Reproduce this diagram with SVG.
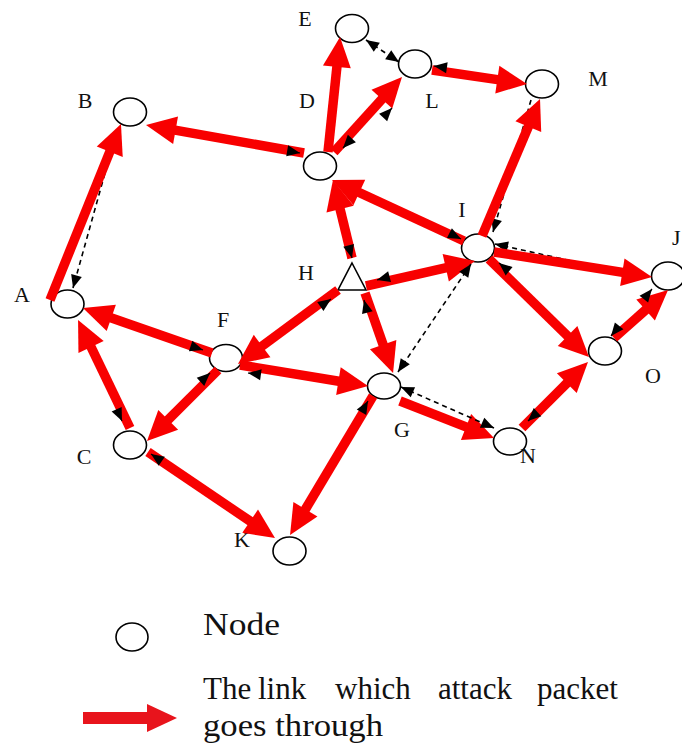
<svg xmlns="http://www.w3.org/2000/svg" width="682" height="749" viewBox="0 0 682 749">
<defs>
<style>
.nd{fill:#fff;stroke:#000;stroke-width:1.6}
.lb{font-family:"Liberation Serif","Times New Roman",serif;font-size:22px;fill:#111;text-anchor:middle}
.red{fill:none;stroke:#f80000;stroke-width:9.5;stroke-linecap:butt;marker-end:url(#rh)}
.bk{fill:none;stroke:#000;stroke-width:1.2;marker-end:url(#bh)}
.ds{fill:none;stroke:#000;stroke-width:1.6;stroke-dasharray:5 4;marker-end:url(#bh)}
.ds2{fill:none;stroke:#000;stroke-width:1.6;stroke-dasharray:5 4;marker-start:url(#bh);marker-end:url(#bh)}
.lg{font-family:"Liberation Serif","Times New Roman",serif;font-size:31px;fill:#111}
</style>
<marker id="rh" markerUnits="userSpaceOnUse" markerWidth="30" markerHeight="28" refX="2" refY="14" orient="auto" overflow="visible">
<path d="M0,0 L30,14 L0,28 z" fill="#f80000"/>
</marker>
<marker id="bh" markerUnits="userSpaceOnUse" markerWidth="13" markerHeight="11" refX="13" refY="5.5" orient="auto-start-reverse" overflow="visible">
<path d="M0,0 L13,5.5 L0,11 z" fill="#000"/>
</marker>
</defs>
<rect width="682" height="749" fill="#fff"/>

<g id="nodes">
<g id="node-E"><ellipse class="nd" cx="352" cy="28.5" rx="16.5" ry="14"/><text class="lb" x="305" y="26">E</text></g>
<g id="node-L"><ellipse class="nd" cx="415" cy="64" rx="16.5" ry="14"/><text class="lb" x="432" y="108">L</text></g>
<g id="node-M"><ellipse class="nd" cx="542" cy="84" rx="16.5" ry="14"/><text class="lb" x="598" y="86">M</text></g>
<g id="node-D"><ellipse class="nd" cx="320" cy="166" rx="16.5" ry="14"/><text class="lb" x="307" y="108">D</text></g>
<g id="node-B"><ellipse class="nd" cx="130" cy="112" rx="16.5" ry="14"/><text class="lb" x="85" y="108">B</text></g>
<g id="node-A"><ellipse class="nd" cx="67.5" cy="304" rx="16.5" ry="14"/><text class="lb" x="22" y="302">A</text></g>
<g id="node-I"><ellipse class="nd" cx="478" cy="248" rx="16.5" ry="14"/><text class="lb" x="462" y="217">I</text></g>
<g id="node-H"><polygon class="nd" points="352,263 366,290 338,290"/><text class="lb" x="306" y="280">H</text></g>
<g id="node-F"><ellipse class="nd" cx="226" cy="358" rx="16.5" ry="13.5"/><text class="lb" x="223" y="327">F</text></g>
<g id="node-G"><ellipse class="nd" cx="384" cy="386" rx="16.5" ry="13"/><text class="lb" x="402" y="437">G</text></g>
<g id="node-J"><ellipse class="nd" cx="668" cy="276" rx="16.5" ry="14"/><text class="lb" x="672" y="245" style="text-anchor:start">J</text></g>
<g id="node-O"><ellipse class="nd" cx="605" cy="351" rx="16.5" ry="14"/><text class="lb" x="653" y="383">O</text></g>
<g id="node-N"><ellipse class="nd" cx="510" cy="441.5" rx="16.5" ry="13.5"/><text class="lb" x="528" y="463">N</text></g>
<g id="node-C"><ellipse class="nd" cx="130" cy="445" rx="16.5" ry="14"/><text class="lb" x="84" y="464">C</text></g>
<g id="node-K"><ellipse class="nd" cx="289.5" cy="551" rx="16.5" ry="14"/><text class="lb" x="242" y="547">K</text></g>
</g>

<g id="connectors">
<path class="ds" d="M117,130 L73,288"/>
<path class="ds" d="M531,100 L493,232"/>
<path class="ds" d="M640,276 L495,244"/>

<path class="red" d="M50,300 L110.5,150"/>
<path class="red" d="M304,153 L173.6,129.9"/>
<path class="red" d="M328,152 L337.1,64.9"/>
<path class="red" d="M334,152 L383.2,97.7"/>
<path class="red" d="M432,70 L499.3,79.9"/>
<path class="red" d="M482,236 L529.1,124.8"/>
<path class="red" d="M464,241 L357.5,191.7"/>
<path class="red" d="M352,258 L339.6,207.2"/>
<path class="red" d="M366,286 L447.7,267.3"/>
<path class="red" d="M338,290 L260.5,347.3"/>
<path class="red" d="M365,293 L383.8,346.6"/>
<path class="red" d="M240,365 L340.4,381.5"/>
<path class="red" d="M212,353 L109.4,317.2"/>
<path class="red" d="M218,370 L166.8,421.2"/>
<path class="red" d="M130,428 L90.2,345.2"/>
<path class="red" d="M148,452 L251.8,522.3"/>
<path class="red" d="M373,396 L304.4,511"/>
<path class="red" d="M400,401 L467.9,427.7"/>
<path class="red" d="M494,252 L624.3,272.6"/>
<path class="red" d="M489,259 L569,337.4"/>
<path class="red" d="M614,338 L647.1,308.6"/>
<path class="red" d="M522,428 L568.2,381.8"/>

<path class="ds2" d="M366,40 L399,62"/>
<path class="ds2" d="M471,264 L398,372"/>
<path class="ds2" d="M401,387 L494,428"/>

<path class="bk" d="M290.2,151.3 L300,153"/>
<path class="bk" d="M349.8,140.7 L343,148"/>
<path class="bk" d="M385.2,115.3 L392,108"/>
<path class="bk" d="M443.9,67.4 L434,66"/>
<path class="bk" d="M452.1,234.5 L461,239"/>
<path class="bk" d="M386.7,277.4 L377,280"/>
<path class="bk" d="M322.8,304.7 L331,299"/>
<path class="bk" d="M366.6,309.7 L364,300"/>
<path class="bk" d="M349.4,248.3 L352,258"/>
<path class="bk" d="M257.9,374.4 L248,373"/>
<path class="bk" d="M193.5,346.9 L203,350"/>
<path class="bk" d="M202.7,379.8 L210,373"/>
<path class="bk" d="M117.9,411.9 L122,421"/>
<path class="bk" d="M159.3,459.6 L151,454"/>
<path class="bk" d="M363,409.7 L368,401"/>
<path class="bk" d="M506.8,269.3 L499,263"/>
<path class="bk" d="M617.3,328.2 L611,336"/>
<path class="bk" d="M645.7,296.8 L652,289"/>
<path class="bk" d="M535.3,414.2 L528,421"/>
</g>

<g id="legend">
<ellipse class="nd" cx="132" cy="637" rx="16" ry="14"/>
<text class="lg" x="203" y="635" textLength="77" lengthAdjust="spacingAndGlyphs">Node</text>
<line x1="83" y1="718" x2="149" y2="718" stroke="#e8141c" stroke-width="12"/>
<polygon points="147,704 177,718 147,732" fill="#e8141c"/>
<text class="lg" y="699"><tspan x="203">The</tspan><tspan x="258">link</tspan><tspan x="335">which</tspan><tspan x="438">attack</tspan><tspan x="537">packet</tspan></text>
<text class="lg" x="203" y="736" textLength="180" lengthAdjust="spacingAndGlyphs">goes through</text>
</g>
</svg>
